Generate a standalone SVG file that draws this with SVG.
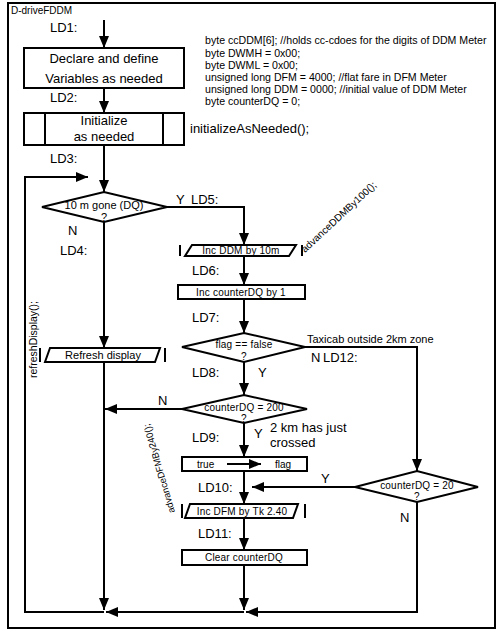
<svg xmlns="http://www.w3.org/2000/svg" width="499" height="631" viewBox="0 0 499 631">
<style>
text{font-family:"Liberation Sans",Arial,sans-serif;fill:#000}
.lbl{font-size:13px}
.box{fill:#fff;stroke:#000;stroke-width:2}
.t13{font-size:13px;text-anchor:middle}
.t11{font-size:11px;text-anchor:middle}
.t10{font-size:10px;text-anchor:middle;letter-spacing:0.2px}
.code{font-size:10.6px}
.ln{fill:none;stroke:#000;stroke-width:2}
.bar{stroke:#000;stroke-width:2}
</style>
<defs>
<marker id="ah" markerUnits="userSpaceOnUse" markerWidth="12" markerHeight="10" refX="12" refY="5" orient="auto">
<path d="M0,0 L12,5 L0,10 z" fill="#000"/>
</marker>
</defs>
<rect x="8" y="3" width="487" height="625" fill="#fff" stroke="#000" stroke-width="2"/>
<text x="11" y="14" style="font-size:10px">D-driveFDDM</text>

<g id="connectors">
<path class="ln" d="M104,20 V48" marker-end="url(#ah)"/>
<path class="ln" d="M104,88 V113" marker-end="url(#ah)"/>
<path class="ln" d="M104,145 V192" marker-end="url(#ah)"/>
<path class="ln" d="M104,612 H25 V177 H88" marker-end="url(#ah)"/>
<path class="ln" d="M167,207 H244 V245" marker-end="url(#ah)"/>
<path class="ln" d="M244,256 V285" marker-end="url(#ah)"/>
<path class="ln" d="M244,299 V333" marker-end="url(#ah)"/>
<path class="ln" d="M305,347 H417 V471" marker-end="url(#ah)"/>
<path class="ln" d="M244,362 V395" marker-end="url(#ah)"/>
<path class="ln" d="M182,409 H105" marker-end="url(#ah)"/>
<path class="ln" d="M244,423 V457" marker-end="url(#ah)"/>
<path class="ln" d="M104,222 V348" marker-end="url(#ah)"/>
<path class="ln" d="M104,362 V610" marker-end="url(#ah)"/>
<path class="ln" d="M244,471 V504" marker-end="url(#ah)"/>
<path class="ln" d="M355,487 H252" marker-end="url(#ah)"/>
<path class="ln" d="M244,518 V550" marker-end="url(#ah)"/>
<path class="ln" d="M244,565 V610" marker-end="url(#ah)"/>
<path class="ln" d="M417,502 V612 H246" marker-end="url(#ah)"/>
<path class="ln" d="M244,612 H106" marker-end="url(#ah)"/>
</g>

<g id="labels">
<text class="lbl" x="50" y="32">LD1:</text>
<text class="lbl" x="50" y="102">LD2:</text>
<text class="lbl" x="50" y="163">LD3:</text>
<text class="lbl" x="176" y="204">Y</text>
<text class="lbl" x="191" y="204">LD5:</text>
<text class="lbl" x="68" y="235">N</text>
<text class="lbl" x="60" y="255">LD4:</text>
<text class="lbl" x="192" y="275">LD6:</text>
<text class="lbl" x="192" y="322">LD7:</text>
<text class="lbl" x="192" y="377">LD8:</text>
<text class="lbl" x="258" y="377">Y</text>
<text class="lbl" x="311" y="362">N</text>
<text class="lbl" x="323" y="362">LD12:</text>
<text style="font-size:11px" x="307" y="343">Taxicab outside 2km zone</text>
<text class="lbl" x="158" y="405">N</text>
<text class="lbl" x="192" y="442">LD9:</text>
<text class="lbl" x="254" y="438">Y</text>
<text style="font-size:13px" x="270" y="432">2 km has just</text>
<text style="font-size:13px" x="270" y="447">crossed</text>
<text class="lbl" x="198" y="492">LD10:</text>
<text class="lbl" x="321" y="483">Y</text>
<text class="lbl" x="400" y="522">N</text>
<text class="lbl" x="198" y="538">LD11:</text>
</g>

<g id="code">
<text class="code" x="205" y="44">byte ccDDM[6];  //holds cc-cdoes for the digits of DDM Meter</text>
<text class="code" x="205" y="57">byte DWMH = 0x00;</text>
<text class="code" x="205" y="69">byte DWML = 0x00;</text>
<text class="code" x="205" y="81">unsigned long DFM = 4000; //flat fare in DFM Meter</text>
<text class="code" x="205" y="93">unsigned long DDM = 0000; //initial value of DDM Meter</text>
<text class="code" x="205" y="105">byte counterDQ = 0;</text>
<text x="190" y="133" style="font-size:13px">initializeAsNeeded();</text>
<text x="305" y="253" style="font-size:10px" transform="rotate(-43 305 253)">advanceDDMBy100();</text>
<text x="175" y="512" style="font-size:9.5px" transform="rotate(-106 175 512)">advanceDFMBy240();</text>
<text x="37" y="378" style="font-size:10.5px" transform="rotate(-90 37 378)">refreshDisplay();</text>
</g>

<g id="declare">
<rect class="box" x="24" y="48" width="160" height="40"/>
<text class="t13" x="104" y="63">Declare and define</text>
<text class="t13" x="104" y="83">Variables as needed</text>
</g>

<g id="initialize">
<rect class="box" x="24" y="113" width="160" height="32"/>
<line class="bar" x1="45" y1="113" x2="45" y2="145"/>
<line class="bar" x1="163" y1="113" x2="163" y2="145"/>
<text class="t13" x="104" y="125">Initialize</text>
<text class="t13" x="104" y="141">as needed</text>
</g>

<g id="dq-decision">
<polygon class="box" points="42,207 104,192 167,207 104,222"/>
<text class="t11" x="104" y="209">10 m gone (DQ)</text>
<text class="t11" x="104" y="221">?</text>
</g>

<g id="inc-ddm">
<polygon class="box" points="192,245 296,245 289,256 185,256"/>
<line class="bar" x1="180" y1="245" x2="180" y2="256"/>
<line class="bar" x1="302" y1="245" x2="302" y2="256"/>
<text class="t10" x="241" y="254">Inc DDM by 10m</text>
</g>

<g id="inc-counter">
<rect class="box" x="178" y="285" width="127" height="14"/>
<text class="t10" x="241" y="296">Inc counterDQ by 1</text>
</g>

<g id="flag-decision">
<polygon class="box" points="182,347 244,333 305,347 244,362"/>
<text class="t10" x="244" y="348">flag == false</text>
<text class="t10" x="244" y="360">?</text>
</g>

<g id="refresh">
<polygon class="box" points="50,348 160,348 155,362 45,362"/>
<line class="bar" x1="40" y1="348" x2="40" y2="362"/>
<line class="bar" x1="165" y1="348" x2="165" y2="362"/>
<text class="t11" x="103" y="359">Refresh display</text>
</g>

<g id="counter200-decision">
<polygon class="box" points="182,409 244,395 307,409 244,423"/>
<text class="t10" x="244" y="411">counterDQ = 200</text>
<text class="t10" x="244" y="422">?</text>
</g>

<g id="set-flag">
<rect class="box" x="182" y="457" width="125" height="14"/>
<text style="font-size:10px" x="197" y="468">true</text>
<text style="font-size:10px" x="275" y="468">flag</text>
<path class="ln" d="M227,464 H261" marker-end="url(#ah)"/>
</g>

<g id="counter20-decision">
<polygon class="box" points="355,487 417,471 478,487 417,502"/>
<text class="t10" x="417" y="489">counterDQ = 20</text>
<text class="t10" x="417" y="500">?</text>
</g>

<g id="inc-dfm">
<polygon class="box" points="190,504 298,504 293,518 185,518"/>
<line class="bar" x1="182" y1="504" x2="182" y2="518"/>
<line class="bar" x1="305" y1="504" x2="305" y2="518"/>
<text class="t10" x="242" y="515">Inc DFM by Tk 2.40</text>
</g>

<g id="clear-counter">
<rect class="box" x="182" y="550" width="125" height="15"/>
<text class="t10" x="244" y="561">Clear counterDQ</text>
</g>
</svg>
